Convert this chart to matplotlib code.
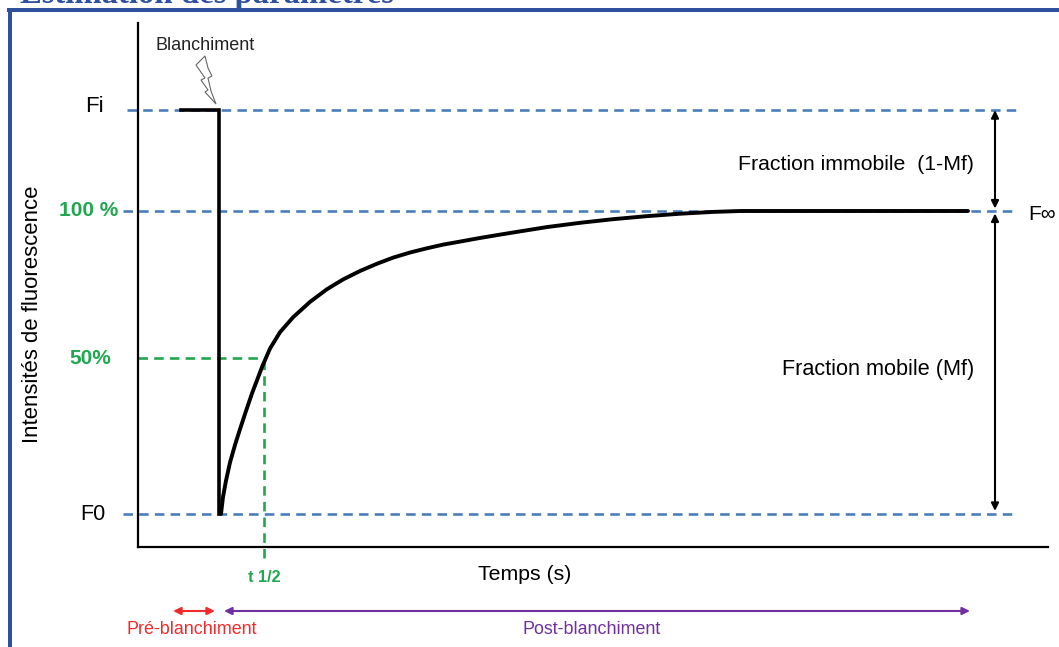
import matplotlib
matplotlib.use("Agg")
import matplotlib.pyplot as plt
from matplotlib.patches import Polygon, Rectangle
from matplotlib.transforms import Affine2D

plt.rcParams['font.family'] = ['Liberation Sans', 'DejaVu Sans']

W, H = 1059, 647

# values (time in arbitrary units, intensity in % of F-inf)
pre_time = [43, 81, 81]
pre_value = [133.3, 133.3, 0]
rec_time = [83, 85, 88, 92, 97, 102, 108, 114, 120, 124, 132, 142, 155, 172, 189, 205, 222, 239,
            255, 272, 289, 305, 322, 342, 362, 375, 409, 442, 475, 509, 542, 575, 602, 830]
rec_value = [0, 5.6, 11, 17, 22.8, 28, 34, 39.8, 45, 48.5, 54.6, 60, 64.9, 70, 74.2, 77.4, 80.2, 82.6,
             84.6, 86.3, 87.7, 88.9, 89.9, 91.1, 92.2, 92.9, 94.7, 96.1, 97.3, 98.3, 99.1, 99.7, 100, 100]

F0 = 0
F_INF = 100
FI = 133.3
HALF = 51.5
T_HALF = 126

blue = '#4a7ebb'
green = '#1fa84f'
red = '#f02b2b'
purple = '#7030a0'
frame = '#2f4f9f'

fig = plt.figure(figsize=(W / 100, H / 100), dpi=100, facecolor='w')
ax = fig.add_axes([138 / W, 1 - 547 / H, (1048 - 138) / W, (547 - 23) / H])
ax.set_xlim(0, 910)
ax.set_ylim(-33 / 3.03, 491 / 3.03)
ax.patch.set_visible(False)
ax.spines['top'].set_visible(False)
ax.spines['right'].set_visible(False)
ax.spines['left'].set_linewidth(1.6)
ax.spines['bottom'].set_linewidth(1.6)
ax.set_xticks([])
ax.set_yticks([])

# pixel transform for the slide furniture
px = Affine2D().scale(1 / W, -1 / H).translate(0, 1) + fig.transFigure

# slide frame and cut off title
fig.add_artist(Rectangle((7, 8), W - 7, 4, transform=px, color=frame, lw=0))
fig.add_artist(Rectangle((8, 8), 4, H - 8, transform=px, color=frame, lw=0))
fig.text(20, 3, 'Estimation des paramètres', transform=px, family='Liberation Serif',
         weight='bold', fontsize=23.6, color=frame, va='baseline', ha='left')

# dashed guides
dash = (0, (3.6, 2.35))
for y, x0, x1 in [(FI, -11, 882), (F_INF, -15, 877), (F0, -15, 879)]:
    ax.plot([x0, x1], [y, y], color=blue, lw=1.9, ls=dash, clip_on=False, zorder=1)
ax.plot([0, T_HALF], [HALF, HALF], color=green, lw=1.9, ls=dash, clip_on=False, zorder=1)
ax.plot([T_HALF, T_HALF], [-14.5, HALF], color=green, lw=1.9, ls=dash, clip_on=False, zorder=1)

# curve
ax.plot(pre_time, pre_value, color='k', lw=2.6, solid_joinstyle='miter', zorder=3)
ax.plot(rec_time, rec_value, color='k', lw=2.8, solid_capstyle='round', solid_joinstyle='round', zorder=3)

# fraction arrows
def arrow(x0, y0, x1, y1, color, lw):
    ax.annotate('', xy=(x1, y1), xytext=(x0, y0), annotation_clip=False,
                arrowprops=dict(arrowstyle='<|-|>,head_width=0.22,head_length=0.45',
                                color=color, lw=lw, shrinkA=0, shrinkB=0))

arrow(857, F_INF + 0.8, 857, FI, 'k', 1.5)
arrow(857, F0 + 1, 857, F_INF - 0.8, 'k', 1.5)

# phase arrows under the axis
y_phase = (514 - 611) / 3.03
arrow(35, y_phase, 77, y_phase, red, 1.5)
arrow(86, y_phase, 832, y_phase, purple, 1.5)

# lightning bolt
bolt_x = [205, 196, 205, 201, 208, 205, 216, 211, 208, 212, 208]
bolt_y = [56, 65, 78, 80, 90, 92, 104, 91, 78, 76, 68]
fig.add_artist(Polygon(list(zip(bolt_x, bolt_y)), closed=True, transform=px,
                       fc='w', ec='#666666', lw=0.8))

# labels
def label(x, y, s, size=15, color='k', ha='center', **kw):
    fig.text(x, y, s, transform=px, fontsize=size, color=color, ha=ha, va='center', **kw)

label(205, 45, 'Blanchiment', 13, '#222222')
label(94, 106, 'Fi', 16)
label(93, 514, 'F0', 15.5)
label(89, 211, '100 %', 15, green, weight='bold')
label(90, 358, '50%', 15, green, weight='bold')
label(264, 577, 't 1/2', 11.7, green, weight='bold')
label(525, 575, 'Temps (s)', 15.3)
label(33, 314, 'Intensités de fluorescence', 15.9, rotation=90)
label(856, 164, 'Fraction immobile  (1-Mf)', 15.3)
label(878, 369, 'Fraction mobile (Mf)', 15.6)
label(1042, 214, 'F∞', 15)
label(192, 629, 'Pré-blanchiment', 12.9, red)
label(592, 629, 'Post-blanchiment', 12.9, purple)

fig.savefig('out.png', dpi=100)
